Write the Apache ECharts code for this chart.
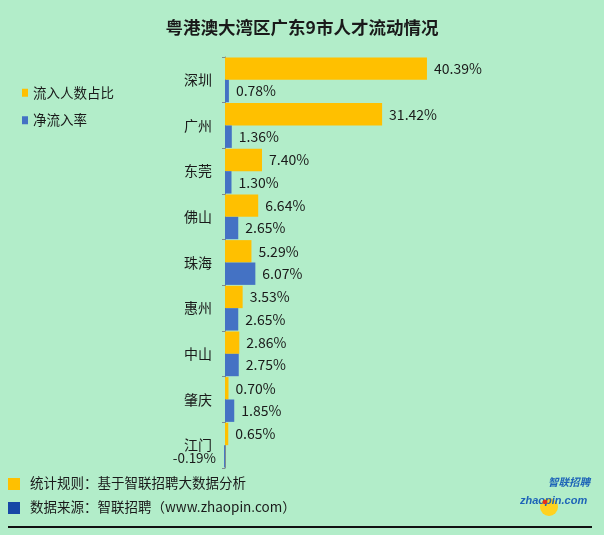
<!DOCTYPE html>
<html>
<head>
<meta charset="utf-8">
<script src="https://cdn.jsdelivr.net/npm/echarts@6/dist/echarts.min.js"></script>
<style>
html,body{margin:0;padding:0;background:#B2EDC9;}
#main{width:604px;height:535px;}
</style>
</head>
<body>
<div id="main"></div>
<script>
const categories = ['深圳','广州','东莞','佛山','珠海','惠州','中山','肇庆','江门'];
const inflowShare = [40.39, 31.42, 7.40, 6.64, 5.29, 3.53, 2.86, 0.70, 0.65];
const netInflowRate = [0.78, 1.36, 1.30, 2.65, 6.07, 2.65, 2.75, 1.85, -0.19];
const seriesNames = ['流入人数占比','净流入率'];
const titleText = '粤港澳大湾区广东9市人才流动情况';
const footnotes = ['统计规则：基于智联招聘大数据分析','数据来源：智联招聘（www.zhaopin.com）'];

const FONT = '"Noto Sans CJK SC", "Noto Sans", sans-serif';
const chart = echarts.init(document.getElementById('main'));
const fmt = p => p.value.toFixed(2) + '%';
const labelStyle = { show: true, position: 'right', distance: 7, formatter: fmt, fontSize: 14, color: '#1a1a1a', fontFamily: FONT };

const netData = netInflowRate.map(v => v < 0
  ? { value: v, label: { position: 'left', distance: 8, offset: [0, 2], fontSize: 13.5 } }
  : v);

chart.setOption({
  backgroundColor: '#B2EDC9',
  textStyle: { fontFamily: FONT },
  title: {
    text: titleText, left: 'center', top: 14,
    textStyle: { fontSize: 17.5, fontWeight: 'bold', color: '#1a1a1a', fontFamily: FONT }
  },
  legend: {
    orient: 'vertical', left: 17, top: 81,
    itemWidth: 6, itemHeight: 8, itemGap: 14,
    icon: 'rect',
    textStyle: { fontSize: 13.5, color: '#1a1a1a', fontFamily: FONT },
    data: seriesNames
  },
  grid: { left: 215, right: 9, top: 57, bottom: 67, containLabel: false },
  xAxis: {
    type: 'value', min: -2, max: 74, show: false
  },
  yAxis: {
    type: 'category', data: categories, inverse: true,
    axisLine: { onZero: true, lineStyle: { color: '#7f8c8d', width: 1 } },
    axisTick: { show: true, length: 3, lineStyle: { color: '#7f8c8d' } },
    axisLabel: { fontSize: 14, color: '#1a1a1a', margin: 3, fontFamily: FONT },
    splitLine: { show: false }
  },
  series: [
    {
      name: seriesNames[0], type: 'bar', data: inflowShare,
      barGap: '0%', barCategoryGap: '2%',
      itemStyle: { color: '#FFC000' },
      label: labelStyle
    },
    {
      name: seriesNames[1], type: 'bar', data: netData,
      barGap: '0%', barCategoryGap: '2%',
      itemStyle: { color: '#4472C4' },
      label: labelStyle
    }
  ],
  graphic: [
    { type: 'rect', left: 8, top: 478, shape: { width: 12, height: 12 }, style: { fill: '#FFC000' } },
    { type: 'text', left: 30, top: 476, style: { text: footnotes[0], font: '13.5px ' + FONT, fill: '#1a1a1a' } },
    { type: 'rect', left: 8, top: 502, shape: { width: 12, height: 12 }, style: { fill: '#1747A6' } },
    { type: 'text', left: 30, top: 500, style: { text: footnotes[1], font: '13.5px ' + FONT, fill: '#1a1a1a' } },
    { type: 'circle', shape: { cx: 549, cy: 507, r: 9 }, style: { fill: '#FFD21F' } },
    { type: 'text', left: 548, top: 477, style: { text: '智联招聘', font: 'italic bold 10.5px ' + FONT, fill: '#1E64B8' } },
    { type: 'text', left: 520, top: 495, style: { text: 'zhaopin.com', font: 'italic bold 11px "Liberation Sans", sans-serif', fill: '#1E64B8' } },
    { type: 'circle', shape: { cx: 545, cy: 502, r: 2.3 }, style: { fill: '#E8311C' } },
    { type: 'line', shape: { x1: 8, y1: 527, x2: 592, y2: 527 }, style: { stroke: '#111', lineWidth: 2 } }
  ]
});
</script>
</body>
</html>
